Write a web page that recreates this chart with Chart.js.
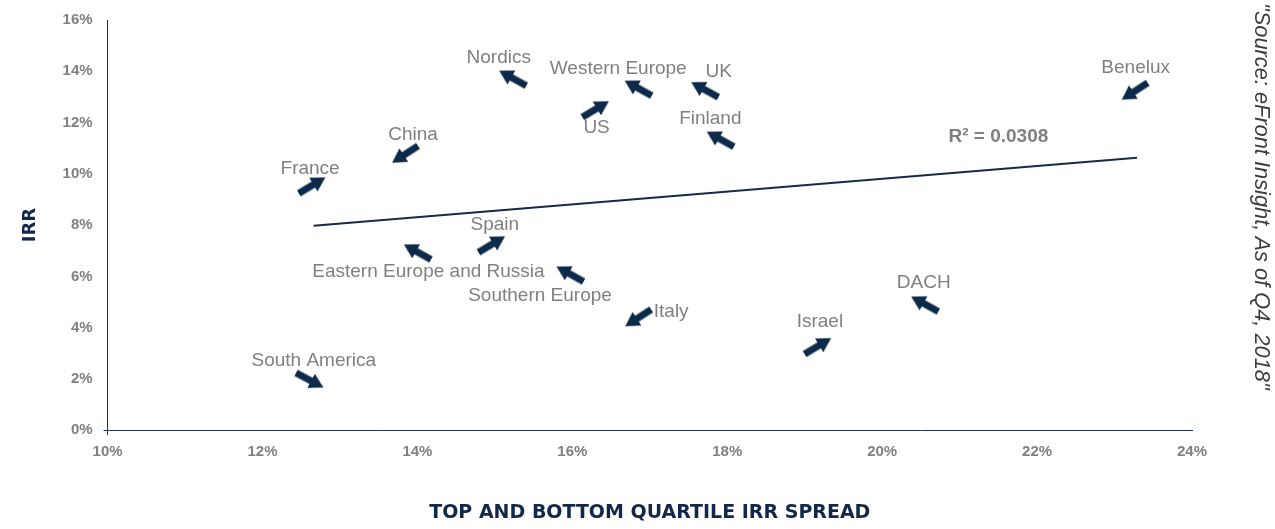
<!DOCTYPE html>
<html>
<head>
<meta charset="utf-8">
<script src="https://cdn.jsdelivr.net/npm/chart.js@4.4.1/dist/chart.umd.min.js"></script>
<style>
  html, body { margin: 0; padding: 0; background: #fff; }
  #wrap { position: relative; width: 1275px; height: 529px; }
  #source {
    position: absolute; left: 1249px; top: 3px;
    writing-mode: vertical-rl;
    font-family: "Liberation Sans", Arial, sans-serif; font-style: italic;
    font-size: 21.8px; color: #3c3c3c; white-space: nowrap;
  }
</style>
</head>
<body>
<div id="wrap">
  <canvas id="chart" width="1275" height="529"></canvas>
  <div id="source">"Source: eFront Insight, As of Q4, 2018"</div>
</div>
<script>
const regions = ['Nordics', 'China', 'France', 'Western Europe', 'UK', 'US', 'Finland', 'Benelux',
  'Eastern Europe and Russia', 'Spain', 'Southern Europe', 'Italy', 'South America', 'Israel', 'DACH'];
const spread = [15.23, 13.84, 12.64, 16.85, 17.71, 16.30, 17.91, 23.26, 14.00, 14.96, 15.97, 16.85, 12.61, 19.17, 20.55];
const irr =    [13.73, 10.76, 9.55, 13.34, 13.28, 12.52, 11.35, 13.22, 6.95, 7.25, 6.09, 4.38, 1.95, 3.28, 4.92];
const trendX = [12.66, 23.29];
const trendY = [7.97, 10.63];
const rSquared = 'R² = 0.0308';

// styling per point: arrow direction and label offset (px)
const arrowAngle = [209, 147, 329, 209, 209, 329, 209, 147, 209, 329, 209, 147, 28, 329, 209];
const labelDx = [-14, 8, -2, -20, 14, 1, -10, 1, 11, 3, -30, 33, 4, 2, -1];
const labelDy = [-20, -20, -17, -19, -18, 19, -20, -24, 20, -20, 22, -6, -19, -24, -21];

const navy = '#0d2a4b';
const grey = '#808080';

// arrow marker pointing right, centred on the point
const arrow = document.createElement('canvas');
arrow.width = 31; arrow.height = 16;
(() => {
  const c = arrow.getContext('2d');
  c.fillStyle = navy;
  c.beginPath();
  c.moveTo(0, 4.6); c.lineTo(17, 4.6); c.lineTo(17, 0); c.lineTo(31, 8);
  c.lineTo(17, 16); c.lineTo(17, 11.4); c.lineTo(0, 11.4);
  c.closePath(); c.fill();
})();

const labelPlugin = {
  id: 'labels',
  afterDatasetsDraw(chart) {
    const ctx = chart.ctx;
    const meta = chart.getDatasetMeta(0);
    ctx.save();
    ctx.font = '19px "Liberation Sans", Arial, sans-serif';
    ctx.fillStyle = grey;
    ctx.textAlign = 'center';
    ctx.textBaseline = 'middle';
    meta.data.forEach((pt, i) => {
      ctx.fillText(regions[i], pt.x + labelDx[i], pt.y + labelDy[i]);
    });
    const xs = chart.scales.x, ys = chart.scales.y;
    ctx.font = 'bold 19px "Liberation Sans", Arial, sans-serif';
    ctx.fillText(rSquared, xs.getPixelForValue(21.5), ys.getPixelForValue(11.45));
    ctx.restore();
  }
};

const tickFont = { family: '"Liberation Sans", Arial, sans-serif', size: 15, weight: 'bold' };
const titleFont = { family: '"DejaVu Sans", sans-serif', size: 19, weight: 'bold' };
const firstTickOnly = ctx => ctx.index === 0 ? '#1f3350' : 'rgba(0,0,0,0)';

new Chart(document.getElementById('chart'), {
  type: 'scatter',
  data: {
    datasets: [{
      label: 'Regions',
      data: spread.map((x, i) => ({ x: x, y: irr[i] })),
      pointStyle: arrow,
      rotation: arrowAngle,
      pointRadius: 10,
      pointHoverRadius: 10
    }, {
      label: 'Trend',
      type: 'line',
      data: trendX.map((x, i) => ({ x: x, y: trendY[i] })),
      borderColor: '#16294a',
      borderWidth: 2,
      pointRadius: 0,
      fill: false
    }]
  },
  plugins: [labelPlugin],
  options: {
    responsive: false,
    animation: false,
    layout: { padding: { left: 10, right: 83, top: 12, bottom: 5 } },
    plugins: { legend: { display: false }, tooltip: { enabled: false } },
    scales: {
      x: {
        type: 'linear', min: 10, max: 24,
        grid: { drawOnChartArea: false, tickLength: 5, color: firstTickOnly },
        border: { display: true, color: '#1f3350', width: 1 },
        ticks: {
          stepSize: 2, padding: 8,
          color: grey, font: tickFont,
          callback: v => v + '%'
        },
        title: {
          display: true, text: 'TOP AND BOTTOM QUARTILE IRR SPREAD',
          color: '#12284a', padding: { top: 32, bottom: 0 },
          font: titleFont
        }
      },
      y: {
        min: 0, max: 16,
        grid: { drawOnChartArea: false, tickLength: 4, color: firstTickOnly },
        border: { display: true, color: '#1f3350', width: 1 },
        ticks: {
          stepSize: 2, padding: 11,
          color: grey, font: tickFont,
          callback: v => v + '%'
        },
        title: {
          display: true, text: 'IRR',
          color: '#12284a', padding: { top: 10, bottom: 10 },
          font: { family: '"DejaVu Sans", sans-serif', size: 18, weight: 'bold' }
        }
      }
    }
  }
});
</script>
</body>
</html>
